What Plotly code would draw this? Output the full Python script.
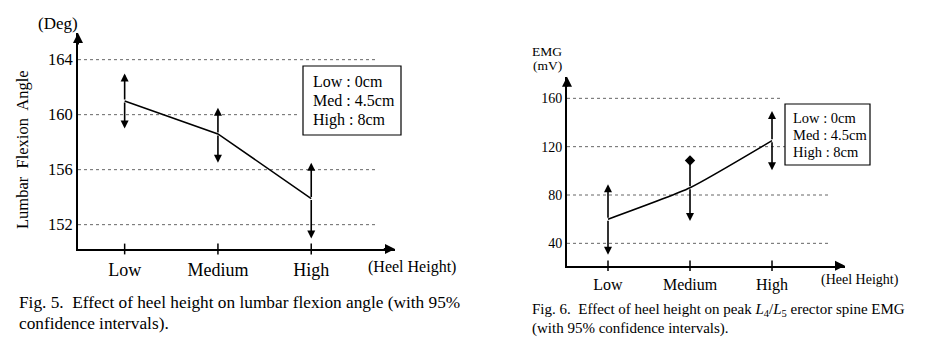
import plotly.graph_objects as go

# ---------------- data ----------------
categories = ["Low", "Medium", "High"]

flexion_ticks = [152, 156, 160, 164]
flexion_mean = [161.0, 158.6, 153.9]
flexion_upper = [163.0, 160.5, 156.5]
flexion_lower = [159.0, 156.5, 151.0]

emg_ticks = [40, 80, 120, 160]
emg_mean = [60, 86, 125]
emg_upper = [89, 108.5, 149.5]
emg_lower = [30.5, 58.5, 100.5]

legend_lines = ["Low : 0cm", "Med : 4.5cm", "High : 8cm"]

# ---------------- styling helpers ----------------
W, H = 948, 360
OFF = 8  # page body margin
SERIF = "Liberation Serif, Times New Roman, serif"


def px(x):
    return (x - OFF) / W


def py(y):
    return 1 - (y - OFF) / H


# axis ranges
flex_xrange = [-0.5, 2.898]
flex_yrange = [150.23, 165.94]
emg_xrange = [-0.5, 2.89]
emg_yrange = [21.5, 177.9]

# grid-line right ends (in category units) per tick, to mimic partial dotted lines
flex_grid_end = [2.69, 2.69, 1.86, 2.69]
emg_grid_end = [2.70, 2.70, 2.16, 2.10]
emg_upper_head = ["arrow", "diamond", "arrow"]

fig = go.Figure()

fig.add_trace(go.Scatter(x=categories, y=flexion_mean, mode="lines",
                         line=dict(color="black", width=1.5),
                         xaxis="x", yaxis="y", hoverinfo="skip"))
fig.add_trace(go.Scatter(x=categories, y=emg_mean, mode="lines",
                         line=dict(color="black", width=1.5, shape="spline", smoothing=0.5),
                         xaxis="x2", yaxis="y2", hoverinfo="skip"))

# diamond head(s)
dx = [c for c, h in zip(categories, emg_upper_head) if h == "diamond"]
dy = [v for v, h in zip(emg_upper, emg_upper_head) if h == "diamond"]
fig.add_trace(go.Scatter(x=dx, y=dy, mode="markers",
                         marker=dict(symbol="diamond", size=8, color="black"),
                         xaxis="x2", yaxis="y2", hoverinfo="skip"))

annotations = []
shapes = []


def arrow(x, y, ax, ay, xref, yref, head=2, width=1.6):
    annotations.append(dict(
        x=x, y=y, ax=ax, ay=ay, xref=xref, yref=yref,
        axref=xref, ayref=yref, text="", showarrow=True,
        arrowhead=head, arrowsize=1, arrowwidth=width, arrowcolor="black",
        standoff=0, startstandoff=0))


def ci_arrows(xref, yref, mean, upper, lower, upper_heads=None):
    for i in range(len(categories)):
        head_up = 2
        if upper_heads is not None and upper_heads[i] != "arrow":
            head_up = 0
        arrow(i, upper[i], i, mean[i], xref, yref, head_up)
        arrow(i, lower[i], i, mean[i], xref, yref, 2)


ci_arrows("x", "y", flexion_mean, flexion_upper, flexion_lower)
ci_arrows("x2", "y2", emg_mean, emg_upper, emg_lower, emg_upper_head)

for t, e in zip(flexion_ticks, flex_grid_end):
    shapes.append(dict(type="line", xref="x", yref="y", x0=-0.5, x1=e, y0=t, y1=t,
                       line=dict(color="#666", width=1, dash="dot"), layer="below"))
for t, e in zip(emg_ticks, emg_grid_end):
    shapes.append(dict(type="line", xref="x2", yref="y2", x0=-0.5, x1=e, y0=t, y1=t,
                       line=dict(color="#666", width=1, dash="dot"), layer="below"))

# tick marks crossing the x axes
for i in range(len(categories)):
    shapes.append(dict(type="line", xref="x", yref="y domain", x0=i, x1=i,
                       y0=-0.025, y1=0.025, line=dict(color="black", width=1.5)))
    shapes.append(dict(type="line", xref="x2", yref="y2 domain", x0=i, x1=i,
                       y0=-0.028, y1=0.028, line=dict(color="black", width=1.5)))

# axis arrowheads (short arrows ending at the axis range ends)
for xr, yr, xrg, yrg in (("x", "y", flex_xrange, flex_yrange),
                         ("x2", "y2", emg_xrange, emg_yrange)):
    xspan = xrg[1] - xrg[0]
    yspan = yrg[1] - yrg[0]
    arrow(xrg[1], yrg[0], xrg[1] - 0.04 * xspan, yrg[0], xr, yr, 2, 2)
    arrow(xrg[0], yrg[1], xrg[0], yrg[1] - 0.06 * yspan, xr, yr, 2, 2)

# legend boxes
shapes.append(dict(type="rect", xref="paper", yref="paper",
                   x0=px(303), x1=px(401), y0=py(135), y1=py(66),
                   line=dict(color="black", width=1.2), fillcolor="white"))
for line, yy in zip(legend_lines, (82, 101, 120)):
    annotations.append(dict(x=px(311), y=py(yy), xref="paper", yref="paper", text=line,
                            showarrow=False, xanchor="left", yanchor="middle",
                            font=dict(family=SERIF, size=16, color="black")))
shapes.append(dict(type="rect", xref="paper", yref="paper",
                   x0=px(785), x1=px(870), y0=py(165), y1=py(104),
                   line=dict(color="black", width=1.2), fillcolor="white"))
for line, yy in zip(legend_lines, (118, 135, 152)):
    annotations.append(dict(x=px(791), y=py(yy), xref="paper", yref="paper", text=line,
                            showarrow=False, xanchor="left", yanchor="middle",
                            font=dict(family=SERIF, size=14.5, color="black")))


def text(x, y, s, size, anchor="center", angle=0):
    annotations.append(dict(x=px(x), y=py(y), xref="paper", yref="paper", text=s,
                            showarrow=False, xanchor=anchor, yanchor="middle",
                            textangle=angle,
                            font=dict(family=SERIF, size=size, color="black")))


text(57.5, 24, "(Deg)", 17)
text(23, 150, "Lumbar  Flexion  Angle", 16.5, angle=-90)
text(412, 267, "(Heel Height)", 16)
text(547, 51, "EMG", 13.5)
text(547, 65, "(mV)", 13.5)
text(860, 280, "(Heel Height)", 14)
text(17, 302, "Fig. 5.  Effect of heel height on lumbar flexion angle (with 95%", 17.3, anchor="left")
text(17, 323, "confidence intervals).", 17.3, anchor="left")
text(530, 310, "Fig. 6.  Effect of heel height on peak <i>L</i><sub>4</sub>/<i>L</i><sub>5</sub> erector spine EMG",
     15, anchor="left")
text(530, 328, "(with 95% confidence intervals).", 15, anchor="left")

axis_common = dict(showline=True, linecolor="black", linewidth=2, showgrid=False,
                   zeroline=False, color="black")

fig.update_layout(
    width=W, height=H, margin=dict(l=0, r=0, t=0, b=0),
    paper_bgcolor="white", plot_bgcolor="white", showlegend=False,
    font=dict(family=SERIF, color="black"),
    xaxis=dict(domain=[px(78), px(395)], range=flex_xrange, type="category",
               categoryarray=categories, ticks="", ticklabelstandoff=3,
               tickfont=dict(size=18), anchor="y", **axis_common),
    yaxis=dict(domain=[py(249), py(33)], range=flex_yrange, tickvals=flexion_ticks,
               ticks="", tickfont=dict(size=16.5), anchor="x", **axis_common),
    xaxis2=dict(domain=[px(567), px(845)], range=emg_xrange, type="category",
                categoryarray=categories, ticks="", ticklabelstandoff=3,
                tickfont=dict(size=16), anchor="y2", **axis_common),
    yaxis2=dict(domain=[py(265.7), py(76.7)], range=emg_yrange, tickvals=emg_ticks,
                ticks="", tickfont=dict(size=14), anchor="x2", **axis_common),
    annotations=annotations, shapes=shapes,
)

fig.write_html("out.html")
